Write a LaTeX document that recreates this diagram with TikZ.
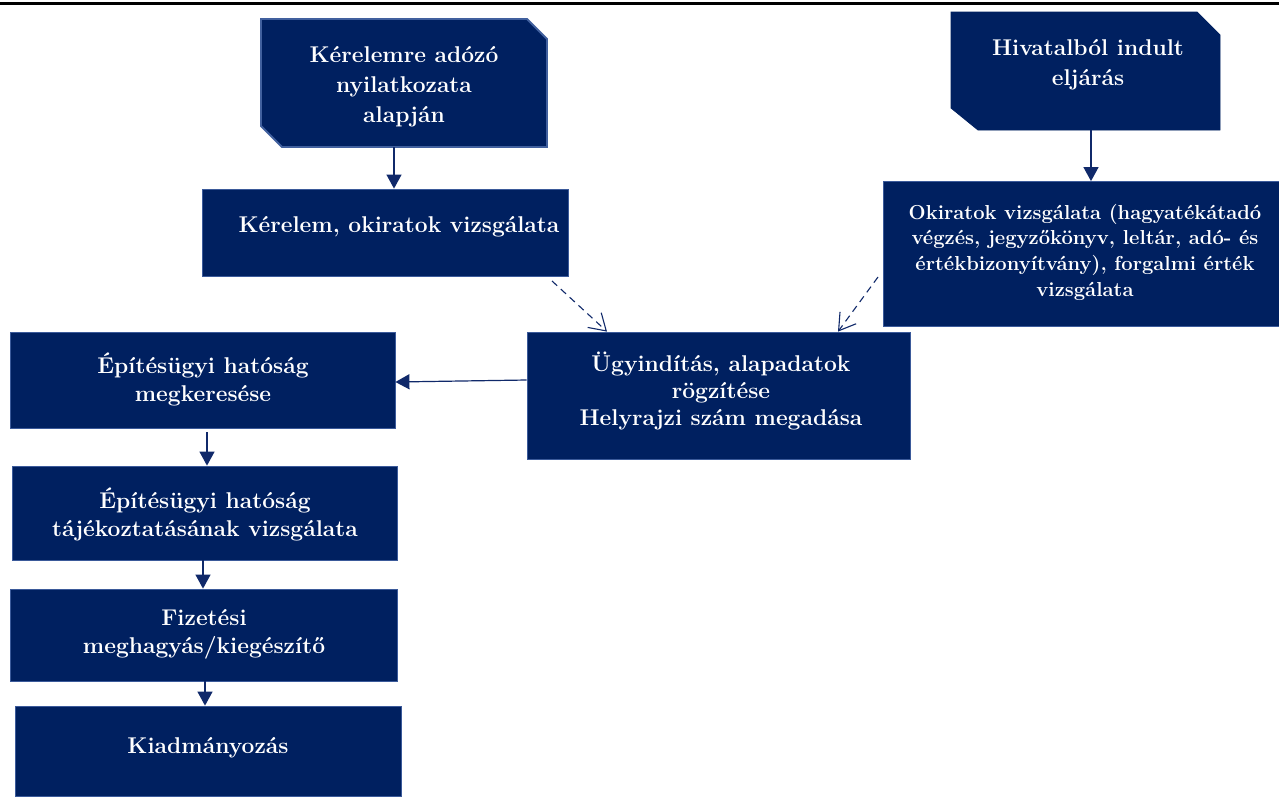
\documentclass[tikz,border=0pt]{standalone}
\usetikzlibrary{arrows.meta,calc}
\definecolor{navy}{HTML}{002060}
\definecolor{edge}{HTML}{3B5A9A}
\definecolor{edgeA}{HTML}{41609E}
\definecolor{arr}{HTML}{10296A}
\begin{document}
\begin{tikzpicture}[x=1pt,y=-1pt,
  box/.style={rectangle, fill=navy, draw=edge, line width=0.8pt, inner sep=0pt},
  frame/.style={rectangle, inner sep=0pt},
  txt/.style={text=white, font=\bfseries\fontsize{22.8}{28}\selectfont, align=center, inner sep=0pt},
  bigtxt/.style={txt, font=\bfseries\fontsize{22.8}{30}\selectfont},
  smalltxt/.style={txt, font=\bfseries\fontsize{20.2}{25.7}\selectfont},
  flow/.style={draw=arr, line width=1.2pt, -{Triangle[width=15pt,length=14pt]}},
  dflow/.style={draw=arr, line width=1.1pt, dash pattern=on 7pt off 5pt, -{Straight Barb[length=16pt,width=20pt]}}]
\useasboundingbox (0,0) rectangle (1279,796);
\fill[white] (0,0) rectangle (1279,796);
\draw[line width=3pt] (0,3) -- (1279,3);

% snipped start boxes
\node[frame, minimum width=286pt, minimum height=128pt] (a) at (404,83) {};
\filldraw[fill=navy, draw=edgeA, line width=1.8pt]
  (261,19) -- (527,19) -- (547,39) -- (547,147) -- (282,147) -- (261,126) -- cycle;
\begin{scope}
  \clip (261,19) rectangle (547,126);
  \node[bigtxt] (ta) at (404,87) {Kérelemre adózó\\nyilatkozata\\alapján};
\end{scope}

\node[frame, minimum width=269pt, minimum height=118pt] (b) at (1085.5,71) {};
\filldraw[fill=navy, draw=navy, line width=0.8pt]
  (951,12) -- (1197,12) -- (1220,35) -- (1220,130) -- (978,130) -- (951,108) -- cycle;
\node[bigtxt] (tb) at (1088,65) {Hivatalból indult\\eljárás};

% rectangular boxes
\node[box, minimum width=366pt, minimum height=87pt] (c) at (385,232.5) {};
\node[txt, anchor=base] (tc) at (399,232) {Kérelem, okiratok vizsgálata};

\node[box, minimum width=396pt, minimum height=145pt] (d) at (1081,254) {};
\node[smalltxt] (td) at (1085,252) {Okiratok vizsgálata (hagyatékátadó\\végzés, jegyzőkönyv, leltár, adó- és\\értékbizonyítvány), forgalmi érték\\vizsgálata};

\node[box, minimum width=383pt, minimum height=127pt] (e) at (718.5,395.5) {};
\node[txt, font=\bfseries\fontsize{22.8}{27}\selectfont] (te) at (721,391) {Ügyindítás, alapadatok\\rögzítése\\Helyrajzi szám megadása};

\node[box, minimum width=385pt, minimum height=96pt] (f) at (202.5,380) {};
\node[txt] (tf) at (203,379) {Építésügyi hatóság\\megkeresése};

\node[box, minimum width=385pt, minimum height=94pt] (g) at (204.5,513) {};
\node[txt] (tg) at (205,514) {Építésügyi hatóság\\tájékoztatásának vizsgálata};

\node[box, minimum width=387pt, minimum height=92pt] (h) at (203.5,635) {};
\node[txt] (th) at (204,634) {Fizetési\\meghagyás/kiegészítő};

\node[box, minimum width=386pt, minimum height=90pt] (i) at (208,751) {};
\node[txt, anchor=base] (ti) at (208,753) {Kiadmányozás};

% connectors
\draw[flow] ([xshift=-10pt]a.south) -- ([xshift=9pt]c.north);
\draw[flow] ([xshift=5.5pt]b.south) -- ([xshift=10pt]d.north);
\coordinate (cd) at (552,281);
\coordinate (dd) at (878,277);
\draw[dflow] (cd) -- ([xshift=-111.5pt]e.north);
\draw[dflow] (dd) -- ([xshift=119.5pt]e.north);
\draw[flow] ([yshift=15.5pt]e.west) -- ([yshift=-2pt]f.east);
\draw[flow] ([xshift=4.5pt,yshift=-4pt]f.south) -- ([xshift=2.5pt]g.north);
\draw[flow] ([xshift=-1.5pt]g.south) -- ([xshift=-0.5pt]h.north);
\draw[flow] ([xshift=1.5pt]h.south) -- ([xshift=-3pt]i.north);
\end{tikzpicture}
\end{document}
